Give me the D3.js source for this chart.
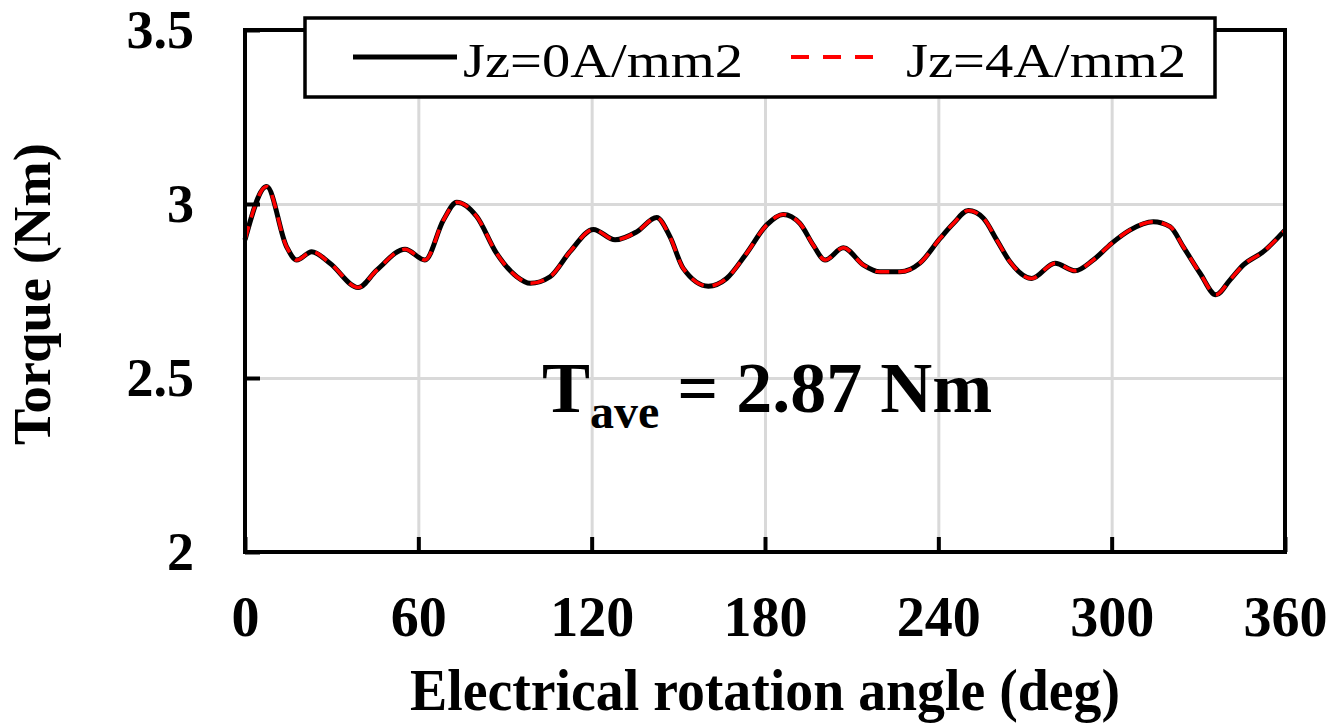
<!DOCTYPE html>
<html>
<head>
<meta charset="utf-8">
<script src="https://cdn.jsdelivr.net/npm/d3@7"></script>
<style>
  body { margin: 0; background: #fff; }
  svg { display: block; }
  svg text { font-family: "Liberation Serif", Tinos, "Times New Roman", Times, "Nimbus Roman", "Nimbus Roman No9 L", FreeSerif, serif; }
</style>
</head>
<body>
<svg width="1329" height="723"></svg>
<script>
let width = 1329;
let height = 723;

// values
let angle = [0, 7.5, 14.4, 17.9, 23.1, 29.4, 39.2, 45.6, 55.4, 62.3, 68.7, 73.3, 80.2, 87.1, 94.1, 98.7,
  105.6, 112.5, 120.6, 128.1, 135.6, 142.5, 147.1, 151.7, 160.4, 166.7, 173.6, 180.6, 186.3, 192.1, 196.7,
  200.8, 207.1, 214, 219.8, 226.7, 233.6, 240.6, 245.2, 250.4, 255.6, 260.2, 264.8, 272.3, 280.4, 287.3,
  293.6, 300, 306.3, 314.4, 320.2, 324.8, 330.6, 336.1, 341, 345.6, 352.5, 360];

let torqueJ0 = [2.897, 3.050, 2.877, 2.839, 2.863, 2.830, 2.760, 2.810, 2.870, 2.839, 2.954, 3.005, 2.964, 2.858,
  2.791, 2.772, 2.791, 2.863, 2.927, 2.897, 2.920, 2.961, 2.906, 2.815, 2.764, 2.786, 2.858, 2.940, 2.970,
  2.944, 2.882, 2.839, 2.874, 2.825, 2.805, 2.805, 2.830, 2.901, 2.944, 2.981, 2.959, 2.897, 2.834, 2.786,
  2.830, 2.808, 2.839, 2.887, 2.925, 2.949, 2.935, 2.877, 2.801, 2.739, 2.782, 2.825, 2.863, 2.925];

let torqueJ4 = [2.897, 3.050, 2.877, 2.839, 2.863, 2.830, 2.760, 2.810, 2.870, 2.839, 2.954, 3.005, 2.964, 2.858,
  2.791, 2.772, 2.791, 2.863, 2.927, 2.897, 2.920, 2.961, 2.906, 2.815, 2.764, 2.786, 2.858, 2.940, 2.970,
  2.944, 2.882, 2.839, 2.874, 2.825, 2.805, 2.805, 2.830, 2.901, 2.944, 2.981, 2.959, 2.897, 2.834, 2.786,
  2.830, 2.808, 2.839, 2.887, 2.925, 2.949, 2.935, 2.877, 2.801, 2.739, 2.782, 2.825, 2.863, 2.925];

let xTicks = [0, 60, 120, 180, 240, 300, 360];
let yTicks = [2, 2.5, 3, 3.5];
let seriesNames = ['Jz=0A/mm2', 'Jz=4A/mm2'];

let plotLeft = 245, plotRight = 1285, plotTop = 30, plotBottom = 552;

let xScale = d3.scaleLinear().domain([0, 360]).range([plotLeft, plotRight]);
let yScale = d3.scaleLinear().domain([2, 3.5]).range([plotBottom, plotTop]);

let svg = d3.select('svg')
              .attr('width', width)
              .attr('height', height);

// grid lines
svg.append('g')
    .attr('transform', `translate(0,${plotBottom})`)
    .call(d3.axisBottom(xScale).tickValues(xTicks.slice(1, -1)).tickSize(-(plotBottom - plotTop)).tickFormat(''))
    .call(g => g.select('.domain').remove())
    .selectAll('line')
        .attr('stroke', '#d9d9d9')
        .attr('stroke-width', 3);

svg.append('g')
    .attr('transform', `translate(${plotLeft},0)`)
    .call(d3.axisLeft(yScale).tickValues([2.5, 3]).tickSize(-(plotRight - plotLeft)).tickFormat(''))
    .call(g => g.select('.domain').remove())
    .selectAll('line')
        .attr('stroke', '#d9d9d9')
        .attr('stroke-width', 3);

// curves
let pts0 = angle.map((a, i) => [a, torqueJ0[i]]);
let pts4 = angle.map((a, i) => [a, torqueJ4[i]]);

let line = d3.line()
              .x(d => xScale(d[0]))
              .y(d => yScale(d[1]))
              .curve(d3.curveMonotoneX);

svg.append('path')
    .attr('d', line(pts0))
    .attr('fill', 'none')
    .attr('stroke', '#000')
    .attr('stroke-width', 5);

svg.append('path')
    .attr('d', line(pts4))
    .attr('fill', 'none')
    .attr('stroke', '#ff0000')
    .attr('stroke-width', 3.5)
    .attr('stroke-dasharray', '14 9');

// axes with inward ticks
let xAxis = svg.append('g')
    .attr('transform', `translate(0,${plotBottom})`)
    .call(d3.axisBottom(xScale).tickValues(xTicks).tickSize(-15).tickPadding(44).tickFormat(d3.format('d')));

xAxis.selectAll('line').attr('stroke', '#000').attr('stroke-width', 4);
xAxis.selectAll('text')
    .attr('fill', '#000')
    .style('font-size', '56px')
    .style('font-weight', 'bold');

let yAxis = svg.append('g')
    .attr('transform', `translate(${plotLeft},0)`)
    .call(d3.axisLeft(yScale).tickValues(yTicks).tickSize(-15).tickPadding(51).tickFormat(d => d));

yAxis.selectAll('line').attr('stroke', '#000').attr('stroke-width', 4);
yAxis.selectAll('text')
    .attr('fill', '#000')
    .style('font-size', '54px')
    .style('font-weight', 'bold');

svg.selectAll('.domain').remove();

// frame
svg.append('rect')
    .attr('x', plotLeft)
    .attr('y', plotTop)
    .attr('width', plotRight - plotLeft)
    .attr('height', plotBottom - plotTop)
    .attr('fill', 'none')
    .attr('stroke', '#000')
    .attr('stroke-width', 4);

// axis titles
svg.append('text')
    .text('Electrical rotation angle (deg)')
    .attr('x', (plotLeft + plotRight) / 2)
    .attr('y', 710)
    .attr('text-anchor', 'middle')
    .attr('textLength', 710)
    .attr('lengthAdjust', 'spacingAndGlyphs')
    .style('font-size', '60px')
    .style('font-weight', 'bold');

svg.append('text')
    .text('Torque (Nm)')
    .attr('transform', 'translate(50,294) rotate(-90)')
    .attr('text-anchor', 'middle')
    .attr('textLength', 302)
    .attr('lengthAdjust', 'spacingAndGlyphs')
    .style('font-size', '53px')
    .style('font-weight', 'bold');

// average torque note
let note = svg.append('text')
    .attr('x', 542)
    .attr('y', 412)
    .style('font-size', '72px')
    .style('font-weight', 'bold');
note.append('tspan').text('T');
note.append('tspan').text('ave').attr('dy', 16).style('font-size', '48px');
note.append('tspan').text(' = 2.87 Nm').attr('dy', -16);

// legend
let legend = svg.append('g');
legend.append('rect')
    .attr('x', 305)
    .attr('y', 18)
    .attr('width', 910)
    .attr('height', 79)
    .attr('fill', '#fff')
    .attr('stroke', '#000')
    .attr('stroke-width', 3.5);

let legendItems = [
  { name: seriesNames[0], x1: 353, x2: 457, tx: 463, color: '#000', dash: null, sw: 5 },
  { name: seriesNames[1], x1: 791, x2: 879, tx: 906, color: '#ff0000', dash: '18 14', sw: 4 }
];

legendItems.forEach(d => {
  legend.append('line')
      .attr('x1', d.x1).attr('x2', d.x2)
      .attr('y1', 57).attr('y2', 57)
      .attr('stroke', d.color)
      .attr('stroke-width', d.sw)
      .attr('stroke-dasharray', d.dash);
  legend.append('text')
      .text(d.name)
      .attr('x', d.tx)
      .attr('y', 77)
      .attr('textLength', 280)
      .attr('lengthAdjust', 'spacingAndGlyphs')
      .style('font-size', '48px');
});
</script>
</body>
</html>
